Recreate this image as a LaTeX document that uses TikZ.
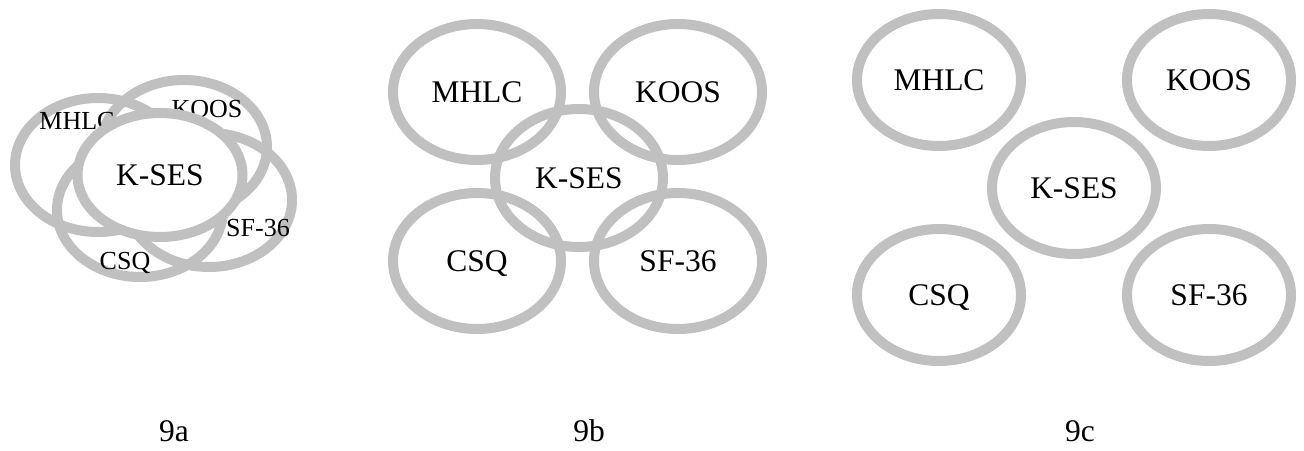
\documentclass[tikz,border=0pt]{standalone}
\usepackage{fontspec}
\setmainfont{Liberation Serif}
\usetikzlibrary{shapes.geometric}
\definecolor{ringgray}{RGB}{192,192,192}
\begin{document}
\begin{tikzpicture}[x=1pt,y=-1pt,
  ring/.style={ellipse, draw=ringgray, line width=10pt, inner sep=0pt},
  ringa/.style={ring, minimum width=166pt, minimum height=134pt},
  ringb/.style={ring, minimum width=168pt, minimum height=136pt},
  ringc/.style={ring, minimum width=164pt, minimum height=132pt},
  big/.style={font=\fontsize{31.5}{36}\selectfont, text height=21pt, text depth=0pt},
  small/.style={font=\fontsize{26}{30}\selectfont, inner sep=0pt, text height=17pt, text depth=0pt},
  caption/.style={font=\fontsize{31.5}{36}\selectfont, anchor=base, inner sep=0pt}]
\useasboundingbox (0,0) rectangle (1304,450);
\fill[white] (0,0) rectangle (1304,450);

% ---------- 9a ----------
\node[ringa] (Ma) at (98,165) {};
\node[ringa] (Ka) at (184,147) {};
\node[ringa] (Ca) at (140,210) {};
\node[ringa] (Sa) at (209,200) {};
\node[small] (tMa) at (77,121) {MHLC};
\node[small] (tKa) at (207,109) {KOOS};
\node[small] (tSa) at (258,228) {SF-36};
\node[small] (tCa) at (125,261) {CSQ};
\node[ring, big, fill=white, minimum width=165pt, minimum height=124pt] (Xa) at (160,175) {K-SES};

% ---------- 9b ----------
\node[ringb, big] (Mb) at (477,92) {MHLC};
\node[ringb, big] (Kb) at (678,92) {KOOS};
\node[ringb, big] (Cb) at (477,261) {CSQ};
\node[ringb, big] (Sb) at (678,261) {SF-36};
\node[ringb, big, minimum height=138pt] (Xb) at (579,178) {K-SES};

% ---------- 9c ----------
\node[ringc, big] (Mc) at (939,80) {MHLC};
\node[ringc, big] (Kc) at (1209,80) {KOOS};
\node[ringc, big] (Xc) at (1074,188) {K-SES};
\node[ringc, big] (Cc) at (939,295) {CSQ};
\node[ringc, big] (Sc) at (1209,295) {SF-36};

% ---------- captions ----------
\node[caption] (capa) at (174,441) {9a};
\node[caption] (capb) at (589,441) {9b};
\node[caption] (capc) at (1080,441) {9c};
\end{tikzpicture}
\end{document}
